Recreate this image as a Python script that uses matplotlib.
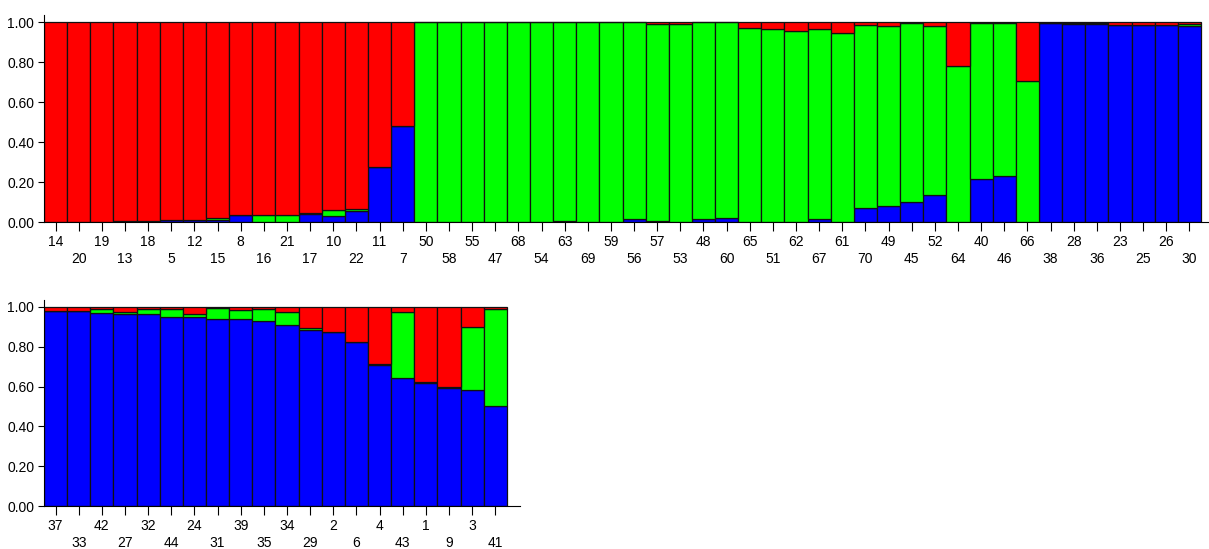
import matplotlib.pyplot as plt
import numpy as np

# membership coefficients, K=3 (stacked bottom->top: blue, green, red)
top_ids = ["14", "20", "19", "13", "18", "5", "12", "15", "8", "16", "21", "17", "10", "22", "11", "7",
           "50", "58", "55", "47", "68", "54", "63", "69", "59", "56", "57", "53", "48", "60", "65", "51",
           "62", "67", "61", "70", "49", "45", "52", "64", "40", "46", "66",
           "38", "28", "36", "23", "25", "26", "30"]
top_blue = [0, 0, 0, 0.005, 0.005, 0.012, 0.012, 0.008, 0.035, 0, 0, 0.042, 0.03, 0.053, 0.276, 0.48,
            0, 0, 0, 0, 0, 0, 0.005, 0, 0, 0.013, 0.005, 0, 0.013, 0.022, 0, 0,
            0, 0.013, 0, 0.072, 0.08, 0.10, 0.137, 0, 0.216, 0.23, 0,
            0.995, 0.99, 0.99, 0.985, 0.985, 0.985, 0.978]
top_green = [0, 0, 0, 0, 0, 0, 0, 0.012, 0, 0.035, 0.035, 0.005, 0.028, 0.014, 0, 0,
             1.0, 1.0, 1.0, 1.0, 1.0, 1.0, 0.995, 1.0, 1.0, 0.987, 0.983, 0.988, 0.987, 0.978, 0.97, 0.963,
             0.955, 0.95, 0.945, 0.913, 0.90, 0.895, 0.841, 0.778, 0.779, 0.765, 0.707,
             0, 0.005, 0.005, 0, 0, 0, 0.012]
bot_ids = ["37", "33", "42", "27", "32", "44", "24", "31", "39", "35", "34", "29", "2", "6", "4", "43",
           "1", "9", "3", "41"]
bot_blue = [0.98, 0.98, 0.97, 0.965, 0.967, 0.948, 0.95, 0.94, 0.94, 0.93, 0.91, 0.883, 0.875, 0.823,
            0.707, 0.645, 0.62, 0.595, 0.585, 0.50]
bot_green = [0, 0, 0.018, 0.01, 0.023, 0.042, 0.013, 0.053, 0.043, 0.06, 0.065, 0.01, 0, 0,
             0.005, 0.328, 0.005, 0.005, 0.313, 0.492]

plt.rcParams['font.family'] = ['Liberation Sans', 'DejaVu Sans']

fig = plt.figure(figsize=(12.09, 5.49), dpi=100)
W, H = 1209, 549
bw = (1201 - 44) / 50.0


def draw(ax, ids, blue, green, right_px):
    blue = np.array(blue)
    green = np.array(green)
    red = 1 - blue - green
    x = np.arange(len(ids))
    kw = dict(width=1.0, edgecolor="#111111", linewidth=0.9)
    ax.bar(x, blue, color="#0000ff", **kw)
    ax.bar(x, green, bottom=blue, color="#00ff00", **kw)
    ax.bar(x, red, bottom=blue + green, color="#ff0000", **kw)
    ax.set_xlim(-0.5, -0.5 + (right_px - 44) / bw)
    ax.set_ylim(0, 1.035)
    ax.set_yticks([0, 0.2, 0.4, 0.6, 0.8, 1.0])
    ax.set_yticklabels(["0.00", "0.20", "0.40", "0.60", "0.80", "1.00"])
    ax.set_xticks(x[::2], ids[::2])
    ax.set_xticks(x[1::2], ids[1::2], minor=True)
    ax.tick_params(axis="x", which="both", length=6.5, width=0.8, labelsize=10, pad=2.5)
    ax.tick_params(axis="x", which="minor", pad=15)
    ax.tick_params(axis="y", length=4, width=0.8, labelsize=10, pad=3)
    for s in ["top", "right"]:
        ax.spines[s].set_visible(False)
    ax.spines["left"].set_linewidth(0.8)
    ax.spines["bottom"].set_linewidth(0.8)


ax1 = fig.add_axes([44 / W, (H - 222) / H, (1209 - 44) / W, 207 / H])
draw(ax1, top_ids, top_blue, top_green, 1209)
ax2 = fig.add_axes([44 / W, (H - 506) / H, (520 - 44) / W, 206 / H])
draw(ax2, bot_ids, bot_blue, bot_green, 520)

fig.savefig("out.png", dpi=100)
